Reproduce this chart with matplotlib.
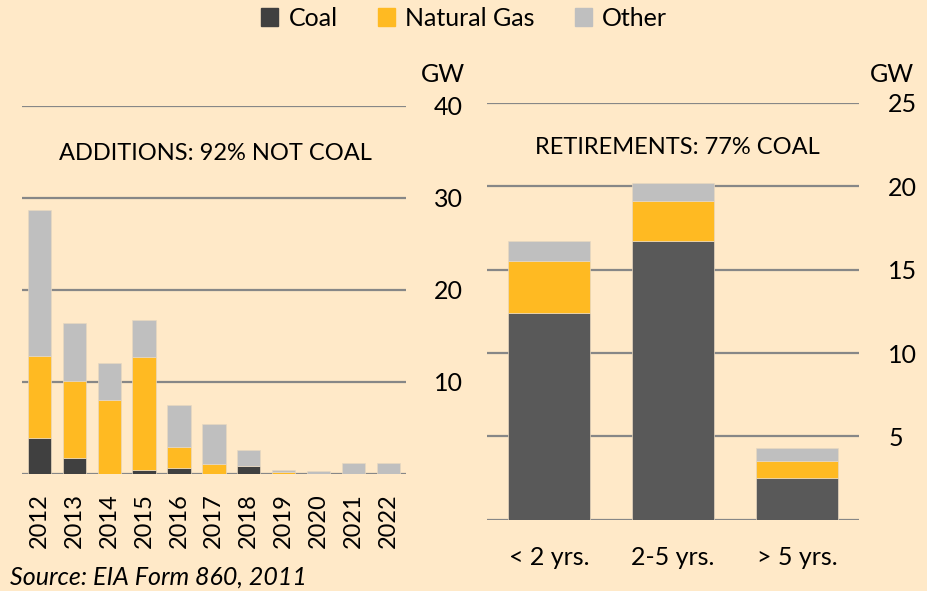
import numpy as np
import matplotlib.pyplot as plt
from matplotlib.patches import Patch

plt.rcParams['font.family'] = ['Lato', 'DejaVu Sans']

# 新增装机 (GW)
years = ['2012', '2013', '2014', '2015', '2016', '2017', '2018', '2019', '2020', '2021', '2022']
add_coal = [3.9, 1.7, 0.0, 0.45, 0.6, 0.0, 0.85, 0.05, 0.0, 0.0, 0.0]
add_gas = [8.9, 8.4, 8.0, 12.25, 2.3, 1.1, 0.0, 0.15, 0.0, 0.0, 0.0]
add_other = [15.9, 6.3, 4.1, 4.0, 4.6, 4.3, 1.75, 0.2, 0.3, 1.25, 1.25]

# 退役装机 (GW)
ret_cats = ['< 2 yrs.', '2-5 yrs.', '> 5 yrs.']
ret_coal = [12.4, 16.7, 2.5]
ret_gas = [3.1, 2.4, 1.0]
ret_other = [1.2, 1.1, 0.8]

bg = '#FFE9C8'
c_gas = '#FFBA22'
c_other = '#BFBFBF'
grid_c = '#878787'
edge = '#E8D8C0'

W, H = 927, 591
fig = plt.figure(figsize=(W / 100, H / 100), dpi=100, facecolor=bg)


def px_axes(x0, y0, x1, y1):
    return fig.add_axes([x0 / W, 1 - y1 / H, (x1 - x0) / W, (y1 - y0) / H])


def style(ax, ymax, step, pad):
    ax.set_facecolor(bg)
    for s in ax.spines.values():
        s.set_visible(False)
    ax.set_ylim(0, ymax)
    ax.set_yticks(np.arange(0, ymax + 0.1, step))
    ax.set_yticklabels([''] + [str(int(v)) for v in np.arange(step, ymax + 0.1, step)])
    ax.yaxis.tick_right()
    ax.tick_params(axis='y', length=0, pad=pad, labelsize=18)
    ax.yaxis.grid(True, color=grid_c, linewidth=1.6)
    ax.set_axisbelow(True)


# 左图：新增
ax1 = px_axes(22, 106, 405.7, 474)
x1 = np.arange(len(years))
w1 = 0.67
ax1.bar(x1, add_coal, w1, color='#404040', edgecolor=edge, linewidth=0.5)
ax1.bar(x1, add_gas, w1, bottom=add_coal, color=c_gas, edgecolor=edge, linewidth=0.5)
b2 = np.array(add_coal) + np.array(add_gas)
ax1.bar(x1, add_other, w1, bottom=b2, color=c_other, edgecolor=edge, linewidth=0.5)
ax1.set_xlim(-0.5, 10.5)
style(ax1, 40, 10, 20)
ax1.set_xticks(x1)
ax1.set_xticklabels(years, rotation=90, fontsize=17)
ax1.tick_params(axis='x', length=0, pad=14)
ax1.text(215 / W, 1 - 153 / H, 'ADDITIONS: 92% NOT COAL', transform=fig.transFigure,
         ha='center', va='center', fontsize=17)
ax1.text(443 / W, 1 - 75 / H, 'GW', transform=fig.transFigure, ha='center', va='center', fontsize=18)

# 右图：退役
ax2 = px_axes(487, 103, 859, 519.7)
x2 = np.arange(len(ret_cats))
w2 = 0.667
ax2.bar(x2, ret_coal, w2, color='#595959', edgecolor=edge, linewidth=0.5)
ax2.bar(x2, ret_gas, w2, bottom=ret_coal, color=c_gas, edgecolor=edge, linewidth=0.5)
r2 = np.array(ret_coal) + np.array(ret_gas)
ax2.bar(x2, ret_other, w2, bottom=r2, color=c_other, edgecolor=edge, linewidth=0.5)
ax2.set_xlim(-0.5, 2.5)
style(ax2, 25, 5, 21)
ax2.set_xticks(x2)
ax2.set_xticklabels(ret_cats, fontsize=18)
ax2.tick_params(axis='x', length=0, pad=19)
ax2.text(677 / W, 1 - 148 / H, 'RETIREMENTS: 77% COAL', transform=fig.transFigure,
         ha='center', va='center', fontsize=17)
ax2.text(892 / W, 1 - 75 / H, 'GW', transform=fig.transFigure, ha='center', va='center', fontsize=18)

# 图例
handles = [Patch(color='#404040'), Patch(color=c_gas), Patch(color=c_other)]
fig.legend(handles, ['Coal', 'Natural Gas', 'Other'], loc='center', ncol=3,
           bbox_to_anchor=(464 / W, 1 - 18 / H), frameon=False, fontsize=18,
           handlelength=0.7, handleheight=0.7, handletextpad=0.4, columnspacing=1.6)

fig.text(10 / W, 1 - 577 / H, 'Source: EIA Form 860, 2011', style='italic',
         ha='left', va='center', fontsize=18)

fig.savefig('out.png', dpi=100, facecolor=bg)
